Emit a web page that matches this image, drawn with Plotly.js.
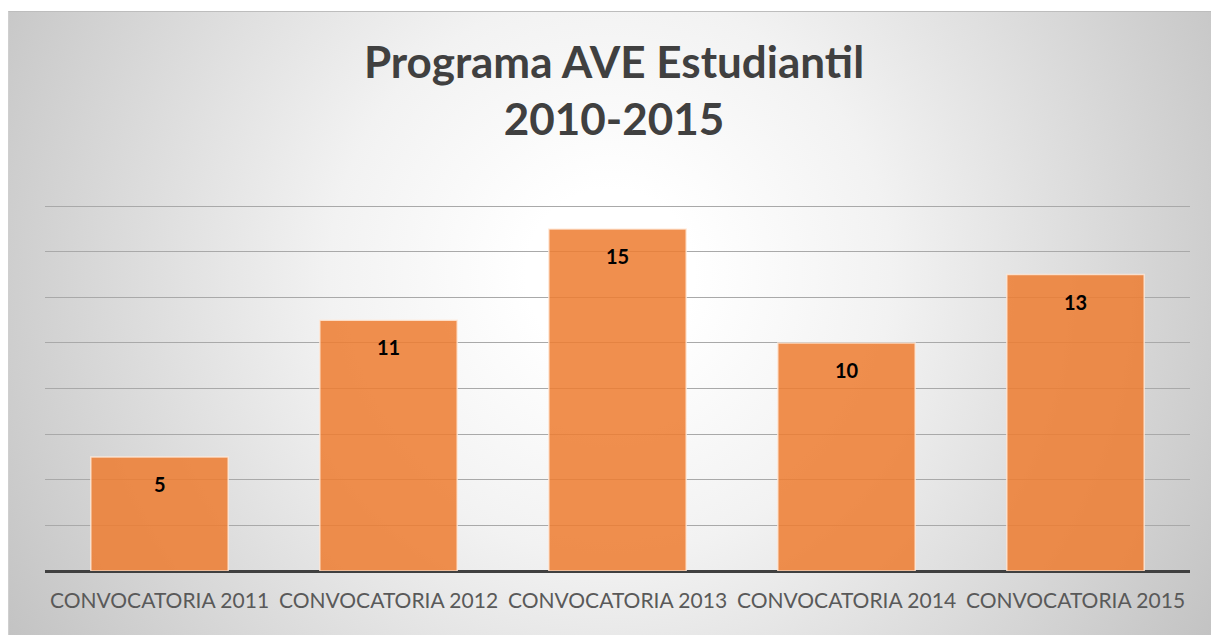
<!DOCTYPE html>
<html>
<head>
<meta charset="utf-8">
<script src="https://cdn.plot.ly/plotly-3.0.1.min.js"></script>
<style>
  html, body { margin: 0; padding: 0; background: #ffffff; }
  #bg { position: absolute; left: 8px; top: 11px; width: 1203px; height: 624px;
        background: radial-gradient(circle farthest-corner at 50% 42%, #ffffff 12%, #f2f2f2 40%, #c3c3c3 100%);
        border-top: 1px solid #bdbdbd; border-left: 1px solid #cfcfcf; box-sizing: border-box; }
  #chart { position: absolute; left: 0; top: 0; width: 1211px; height: 635px; }
</style>
</head>
<body>
<div id="bg"></div>
<div id="chart"></div>
<script>
const categories = ["CONVOCATORIA 2011", "CONVOCATORIA 2012", "CONVOCATORIA 2013", "CONVOCATORIA 2014", "CONVOCATORIA 2015"];
const values = [5, 11, 15, 10, 13];
const titleText = "Programa AVE Estudiantil<br>2010-2015";

const trace = {
  type: "bar",
  x: categories,
  y: values,
  width: 0.6,
  marker: {
    color: "rgba(237,125,49,0.86)",
    line: { color: "rgba(255,235,220,0.8)", width: 1.5 }
  },
  hoverinfo: "none"
};

const annotations = categories.map((c, i) => ({
  x: c, y: values[i], xref: "x", yref: "y",
  text: String(values[i]), showarrow: false,
  yanchor: "middle", yshift: -27,
  font: { family: "Lato, 'Open Sans', sans-serif", size: 20, color: "#000000", weight: 700 }
}));

const layout = {
  width: 1211, height: 635,
  paper_bgcolor: "rgba(0,0,0,0)",
  plot_bgcolor: "rgba(0,0,0,0)",
  margin: { l: 45, r: 21, t: 205, b: 64 },
  showlegend: false,
  bargap: 0.4,
  title: {
    text: titleText,
    x: 0.507, xanchor: "center", xref: "container",
    y: 1 - 78 / 635, yanchor: "top", yref: "container",
    font: { family: "Lato, 'Open Sans', sans-serif", size: 44, color: "#404040", weight: 700 }
  },
  xaxis: {
    type: "category",
    showgrid: false,
    showline: false,
    ticks: "outside", ticklen: 11, tickcolor: "rgba(0,0,0,0)",
    tickfont: { family: "Lato, 'Open Sans', sans-serif", size: 21, color: "#595959" }
  },
  yaxis: {
    range: [0, 16.05],
    dtick: 2,
    showticklabels: false,
    showgrid: true, gridcolor: "#a9a9a9", gridwidth: 1,
    zeroline: true, zerolinecolor: "#404040", zerolinewidth: 3,
    fixedrange: true
  },
  annotations: annotations
};

Plotly.newPlot("chart", [trace], layout, { displayModeBar: false, staticPlot: true });
</script>
</body>
</html>
